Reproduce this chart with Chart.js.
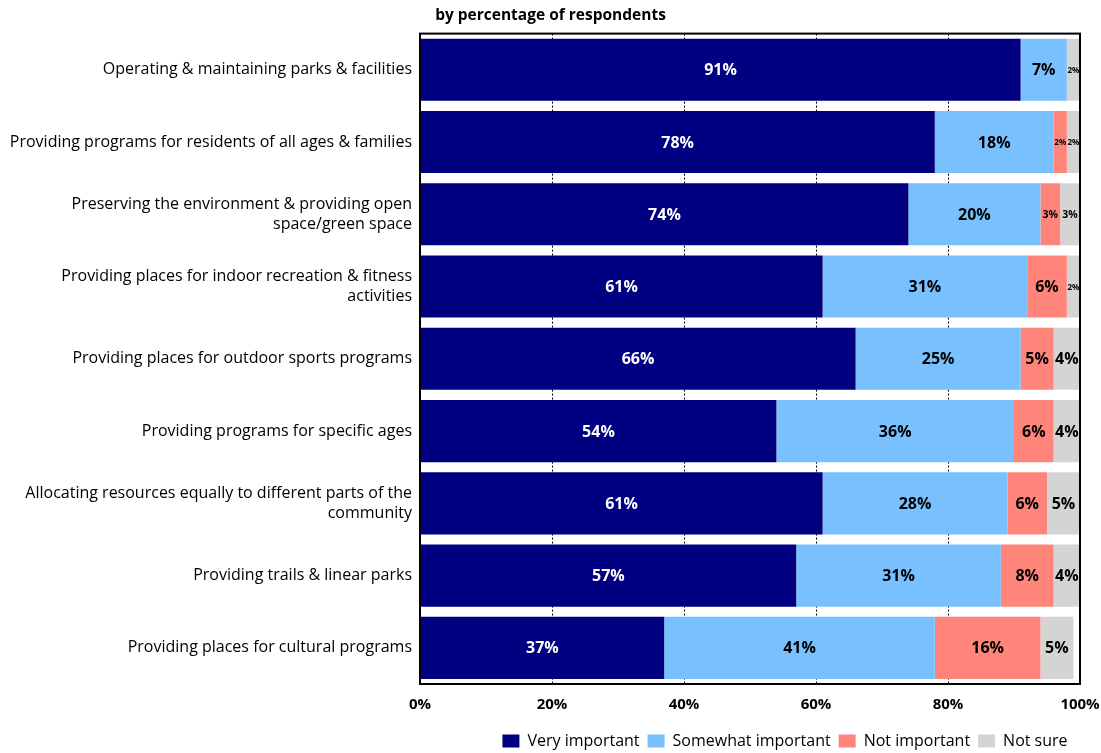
<!DOCTYPE html>
<html>
<head>
<meta charset="utf-8">
<script src="https://cdn.jsdelivr.net/npm/chart.js@4"></script>
<style>
  html, body { margin: 0; padding: 0; background: #fff; }
  #wrap { width: 1101px; height: 753px; }
</style>
</head>
<body>
<div id="wrap"><canvas id="chart" width="1101" height="753"></canvas></div>
<script>
// Importance of park & recreation roles, percent of respondents
const categories = [
  'Operating & maintaining parks & facilities',
  'Providing programs for residents of all ages & families',
  ['Preserving the environment & providing open', 'space/green space'],
  ['Providing places for indoor recreation & fitness', 'activities'],
  'Providing places for outdoor sports programs',
  'Providing programs for specific ages',
  ['Allocating resources equally to different parts of the', 'community'],
  'Providing trails & linear parks',
  'Providing places for cultural programs'
];
const veryImportant     = [91, 78, 74, 61, 66, 54, 61, 57, 37];
const somewhatImportant = [7, 18, 20, 31, 25, 36, 28, 31, 41];
const notImportant      = [0, 2, 3, 6, 5, 6, 6, 8, 16];
const notSure           = [2, 2, 3, 2, 4, 4, 5, 4, 5];
const seriesNames = ['Very important', 'Somewhat important', 'Not important', 'Not sure'];
const xTickLabels = ['0%', '20%', '40%', '60%', '80%', '100%'];
const chartTitle = 'by percentage of respondents';

const FONT = '"Open Sans", Lato, sans-serif';
const colors = ['#000080', '#79C0FF', '#FF857A', '#D4D4D4'];
const labelColors = ['#ffffff', '#000000', '#000000', '#000000'];

// Percent labels centred in each bar segment
const segmentLabels = {
  id: 'segmentLabels',
  afterDatasetsDraw(chart) {
    const ctx = chart.ctx;
    ctx.save();
    ctx.textAlign = 'center';
    ctx.textBaseline = 'middle';
    chart.data.datasets.forEach((ds, di) => {
      const meta = chart.getDatasetMeta(di);
      meta.data.forEach((el, i) => {
        const v = ds.data[i];
        if (!v) return;
        const w = Math.abs(el.x - el.base);
        let size = 16;
        if (w < 15) size = 8;
        else if (w < 22) size = 10.5;
        ctx.font = 'bold ' + size + 'px ' + FONT;
        ctx.fillStyle = labelColors[di];
        ctx.fillText(v + '%', (el.x + el.base) / 2, el.y + 1);
      });
    });
    ctx.restore();
  }
};

// Frame around the plotting area
const plotFrame = {
  id: 'plotFrame',
  afterDatasetsDraw(chart) {
    const a = chart.chartArea;
    const ctx = chart.ctx;
    ctx.save();
    ctx.strokeStyle = '#000';
    ctx.lineWidth = 2;
    ctx.strokeRect(a.left, a.top, a.right - a.left, a.bottom - a.top);
    ctx.restore();
  }
};

// Legend sits centred under the plot area rather than the canvas
const legendPlacement = {
  id: 'legendPlacement',
  afterLayout(chart) {
    const lg = chart.legend;
    if (!lg) return;
    const a = chart.chartArea;
    const w = lg.right - lg.left;
    const c = (a.left + a.right) / 2 + 35;
    lg.left = c - w / 2;
    lg.right = c + w / 2;
    lg.top += 7;
    lg.bottom += 7;
  }
};

const datasetValues = [veryImportant, somewhatImportant, notImportant, notSure];

new Chart(document.getElementById('chart'), {
  type: 'bar',
  data: {
    labels: categories,
    datasets: seriesNames.map((name, i) => ({
      label: name,
      data: datasetValues[i],
      backgroundColor: colors[i],
      borderWidth: 0,
      categoryPercentage: 1,
      barPercentage: 0.86
    }))
  },
  options: {
    indexAxis: 'y',
    responsive: false,
    animation: false,
    layout: { padding: { left: 0, right: 0, top: 0, bottom: 1 } },
    scales: {
      x: {
        stacked: true,
        min: 0,
        max: 100,
        afterFit: (scale) => {
          scale.height = 34;
          scale.paddingLeft = 0;
          scale.paddingRight = 21;
        },
        ticks: {
          stepSize: 20,
          padding: 12,
          color: '#000',
          font: { family: FONT, size: 15, weight: 'bold' },
          callback: (v) => xTickLabels[v / 20]
        },
        grid: {
          color: '#000',
          lineWidth: 1,
          drawTicks: false
        },
        border: { display: true, color: '#000', width: 2, dash: [2, 2] }
      },
      y: {
        stacked: true,
        afterFit: (scale) => {
          scale.width = 420;
          scale.paddingTop = 0;
          scale.paddingBottom = 0;
        },
        ticks: {
          padding: 8,
          color: '#000',
          font: { family: FONT, size: 16, lineHeight: 1.25 }
        },
        grid: { display: false, drawTicks: false },
        border: { display: true, color: '#000', width: 2 }
      }
    },
    plugins: {
      title: {
        display: true,
        text: chartTitle,
        color: '#000',
        font: { family: FONT, size: 15.5, weight: 'bold', lineHeight: 1.2 },
        padding: { top: 6, bottom: 9 }
      },
      legend: {
        position: 'bottom',
        labels: {
          boxWidth: 17,
          boxHeight: 13,
          padding: 8,
          color: '#000',
          font: { family: FONT, size: 16 }
        }
      },
      tooltip: { enabled: false }
    }
  },
  plugins: [segmentLabels, plotFrame, legendPlacement]
});
</script>
</body>
</html>
